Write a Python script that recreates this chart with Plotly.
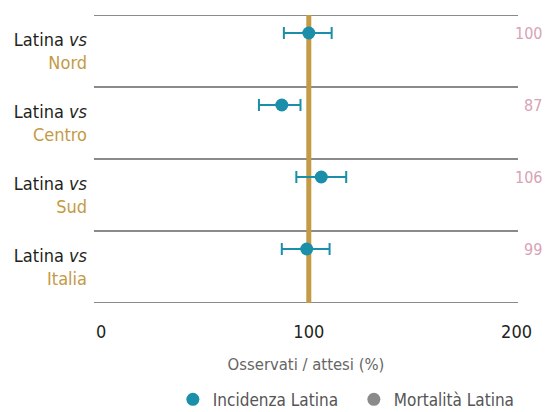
import plotly.graph_objects as go

categories = ["Nord", "Centro", "Sud", "Italia"]
incidence = [100, 87, 106, 99]
ci_low = [88, 76, 94, 87]
ci_high = [111, 96, 118, 110]
value_labels = ["100", "87", "106", "99"]
x_ticks = [0, 100, 200]

TEAL = "#1b8fa9"
GOLD = "#c49a45"
GRAY = "#8a8a8a"
PINK = "#d8a3b5"
FONT = "DejaVu Sans Condensed, Lato"

ypos = list(range(len(categories)))
ydot = [y - 0.25 for y in ypos]

fig = go.Figure()
fig.add_trace(go.Scatter(
    x=incidence, y=ydot, mode="markers", name="Incidenza Latina",
    marker=dict(color=TEAL, size=13),
    error_x=dict(type="data", symmetric=False,
                 array=[h - v for h, v in zip(ci_high, incidence)],
                 arrayminus=[v - l for v, l in zip(incidence, ci_low)],
                 color=TEAL, thickness=2, width=6),
))
fig.add_trace(go.Scatter(
    x=[None], y=[None], mode="markers", name="Mortalità Latina",
    marker=dict(color=GRAY, size=13),
))

shapes = []
bounds = [-0.5] + [y + 0.5 for y in ypos]
for b in bounds:
    shapes.append(dict(type="line", xref="paper", yref="y", x0=0, x1=1, y0=b, y1=b,
                       line=dict(color=GRAY, width=2), layer="below"))
shapes.append(dict(type="line", xref="x", yref="y", x0=100, x1=100, y0=bounds[0], y1=bounds[-1],
                   line=dict(color=GOLD, width=5), layer="below"))

annotations = []
for y, t in zip(ydot, value_labels):
    annotations.append(dict(x=1.061, xref="paper", y=y, yref="y", text=t, showarrow=False,
                            xanchor="right", yanchor="middle",
                            font=dict(family=FONT, size=16, color=PINK)))

ticktext = [f"Latina <i>vs</i><br><span style='color:{GOLD}'>{c}</span>" for c in categories]

# page has an 8px body margin, so the figure is drawn from (8, 8)
fig.update_layout(
    width=545, height=420,
    margin=dict(l=86, r=35, t=7, b=125),
    paper_bgcolor="white", plot_bgcolor="white",
    font=dict(family=FONT, size=18, color="#231f20"),
    shapes=shapes, annotations=annotations,
    showlegend=True,
    legend=dict(orientation="h", x=0.186, xanchor="left", y=-0.336, yanchor="middle",
                font=dict(family=FONT, size=17, color="#555555"), itemwidth=30,
                entrywidth=136, entrywidthmode="pixels", tracegroupgap=0),
    xaxis=dict(range=[-3.4, 200.7], tickvals=x_ticks, showgrid=False, zeroline=False,
               showline=False, ticks="", automargin=False, ticklabelstandoff=16,
               tickfont=dict(size=18, color="#231f20"),
               title=dict(text="Osservati / attesi (%)", font=dict(size=16.5, color="#666666"),
                          standoff=17)),
    yaxis=dict(range=[3.5, -0.5], tickvals=ypos, ticktext=ticktext, showgrid=False,
               zeroline=False, showline=False, ticks="", ticklabelstandoff=6,
               automargin=False, tickfont=dict(size=18, color="#231f20")),
)

fig.write_html("out.html")
